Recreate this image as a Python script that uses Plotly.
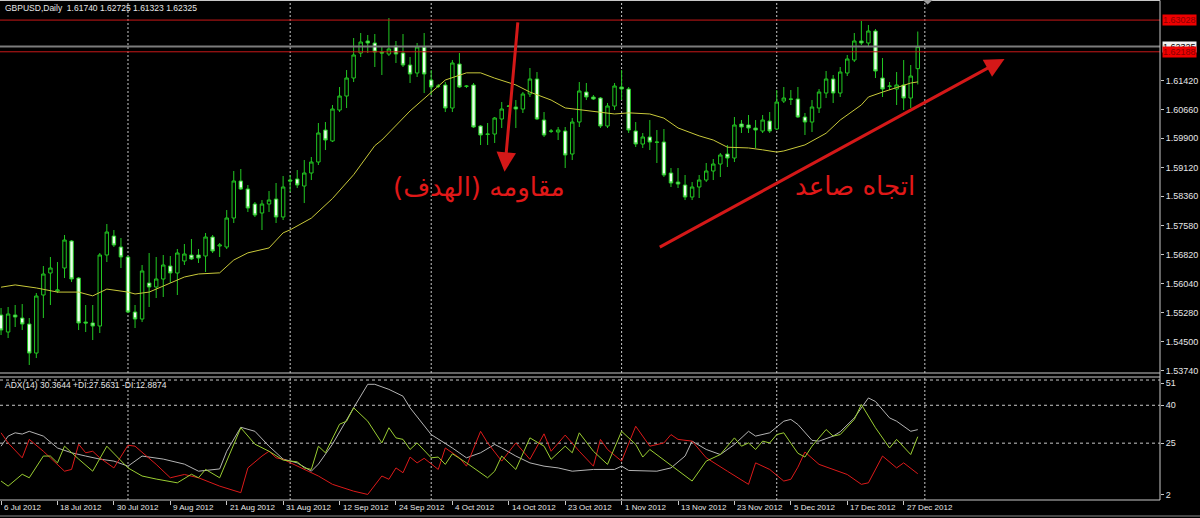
import plotly.graph_objects as go

# ---------------- DATA ----------------
bars = list(range(131))  # daily bars, 6 Jul 2012 (bar 0) .. 31 Dec 2012 (bar 130)

open_ = [1.55213,1.54762,1.55213,1.55133,1.54974,1.54205,1.55743,1.56326,1.55849,1.56458,
         1.57174,1.56193,1.55027,1.55001,1.54921,1.56803,1.57306,1.57015,1.56750,1.55292,
         1.55107,1.56061,1.55955,1.56167,1.56511,1.56326,1.56644,1.56803,1.56803,1.56776,
         1.57280,1.57041,1.57015,1.57783,1.58764,1.58552,1.58154,1.57916,1.58154,1.58286,
         1.57810,1.58790,1.58817,1.58631,1.58976,1.59267,1.60115,1.59825,1.60645,1.61016,
         1.61493,1.62156,1.62474,1.62421,1.62182,1.62129,1.62341,1.62156,1.61838,1.61626,
         1.62315,1.61440,1.61281,1.61308,1.60698,1.61864,1.61281,1.61308,1.60221,1.60009,
         1.60009,1.60407,1.60751,1.60725,1.60672,1.61069,1.61467,1.60380,1.60089,1.60062,
         1.60089,1.59479,1.60327,1.61122,1.60990,1.60963,1.60221,1.60751,1.61255,1.61202,
         1.60089,1.59744,1.59930,1.59797,1.59797,1.58976,1.58737,1.58658,1.58339,1.58605,
         1.58790,1.59029,1.59214,1.59479,1.59373,1.60274,1.60248,1.60168,1.60089,1.60354,
         1.60142,1.60884,1.60937,1.60937,1.60460,1.60327,1.60698,1.61096,1.61467,1.61096,
         1.61626,1.61970,1.62474,1.62421,1.62739,1.61493,1.61281,1.61202,1.61308,1.60963,
         1.61740]
high = [1.55398,1.55425,1.55478,1.55504,1.55133,1.55796,1.56511,1.56750,1.56617,1.57333,
        1.57200,1.56220,1.55478,1.55478,1.56856,1.57624,1.57465,1.57253,1.56776,1.55478,
        1.56538,1.56856,1.56750,1.56803,1.56776,1.56962,1.57094,1.57227,1.56962,1.57386,
        1.57333,1.57121,1.57995,1.59029,1.59082,1.58658,1.58207,1.58260,1.58499,1.58711,
        1.58896,1.58923,1.59055,1.59320,1.59400,1.60301,1.60327,1.60778,1.61255,1.61705,
        1.62553,1.62686,1.62633,1.62659,1.62315,1.63083,1.62474,1.62659,1.62050,1.62421,
        1.62686,1.61705,1.61334,1.61387,1.61970,1.62156,1.61308,1.61361,1.60248,1.60301,
        1.60460,1.60857,1.60778,1.60910,1.61122,1.61758,1.61652,1.60592,1.60142,1.60195,
        1.60195,1.60433,1.61387,1.61361,1.61043,1.60990,1.60831,1.61361,1.61705,1.61255,
        1.60327,1.60036,1.60380,1.60115,1.60142,1.59108,1.59108,1.58923,1.58737,1.58923,
        1.59241,1.59347,1.59505,1.59718,1.60460,1.60380,1.60513,1.60380,1.60513,1.60592,
        1.61175,1.61255,1.61175,1.61255,1.60566,1.60910,1.61202,1.61679,1.61573,1.61785,
        1.62103,1.62686,1.63004,1.62898,1.62792,1.62023,1.61387,1.61652,1.61970,1.61838,
        1.62725]
low = [1.54683,1.54603,1.54895,1.54815,1.53888,1.54073,1.55133,1.55478,1.55796,1.56193,
       1.56087,1.54815,1.54762,1.54550,1.54736,1.56617,1.57015,1.56458,1.55265,1.54868,
       1.55027,1.55425,1.55663,1.55690,1.56061,1.55743,1.56538,1.56670,1.56591,1.56352,
       1.56856,1.56750,1.56962,1.57651,1.58525,1.57942,1.57810,1.57465,1.57942,1.57651,
       1.57730,1.58472,1.58578,1.58180,1.58790,1.59188,1.59585,1.59797,1.60592,1.60698,
       1.61387,1.62050,1.62156,1.61785,1.61573,1.62076,1.61891,1.61785,1.61361,1.61520,
       1.61096,1.61043,1.61228,1.60592,1.60592,1.61228,1.61228,1.60168,1.59718,1.59718,
       1.59771,1.60168,1.60725,1.60168,1.60566,1.60990,1.60380,1.59930,1.60036,1.59850,
       1.59108,1.59320,1.60195,1.60910,1.60910,1.60168,1.60168,1.60645,1.60910,1.60036,
       1.59665,1.59638,1.59585,1.59241,1.58870,1.58605,1.58578,1.58260,1.58260,1.58313,
       1.58737,1.58790,1.58870,1.59135,1.59267,1.60036,1.60036,1.59638,1.60036,1.60036,
       1.60115,1.60831,1.60778,1.60433,1.59983,1.60062,1.60566,1.60963,1.60831,1.60990,
       1.61546,1.61917,1.62368,1.62315,1.61493,1.60990,1.61175,1.60778,1.60645,1.60698,
       1.61323]
close = [1.54815,1.55239,1.55160,1.54974,1.54205,1.55716,1.56299,1.56458,1.55875,1.57200,
         1.56167,1.55001,1.55001,1.54921,1.56803,1.57412,1.57068,1.56750,1.55292,1.55107,
         1.56379,1.55955,1.56167,1.56538,1.56326,1.56856,1.56829,1.56697,1.56723,1.57280,
         1.56909,1.57068,1.57783,1.58764,1.58552,1.58048,1.57863,1.58154,1.58260,1.57810,
         1.58605,1.58764,1.58658,1.58976,1.59267,1.60036,1.59850,1.60672,1.61016,1.61493,
         1.62103,1.62447,1.62421,1.62182,1.62156,1.62262,1.62129,1.61838,1.61599,1.62315,
         1.61599,1.61255,1.61275,1.60698,1.61891,1.61255,1.61275,1.60195,1.59983,1.60003,
         1.60433,1.60672,1.60745,1.60672,1.61069,1.61467,1.60407,1.59983,1.60083,1.60115,
         1.59453,1.60327,1.61149,1.60990,1.60937,1.60221,1.60751,1.61281,1.61202,1.60115,
         1.59744,1.59930,1.59797,1.59791,1.58923,1.58711,1.58684,1.58339,1.58605,1.58790,
         1.59029,1.59214,1.59453,1.59373,1.60248,1.60195,1.60168,1.60115,1.60380,1.60089,
         1.60857,1.60963,1.60931,1.60460,1.60327,1.60725,1.61122,1.61467,1.61096,1.61652,
         1.61997,1.62474,1.62421,1.62739,1.61679,1.61202,1.61275,1.61308,1.60963,1.61546,
         1.62325]

# moving average (yellow)
ma_x = [0,2,5,8,11,13,15,18,19,21,24,26,28,31,33,35,38,40,41,44,47,50,53,54,58,61,63,66,68,70,
        73,75,78,80,82,85,87,89,92,94,96,99,101,103,106,108,110,111,113,114,117,119,122,123,125,
        127,129,130]
ma_v = [1.5595,1.5601,1.5593,1.5582,1.5582,1.5572,1.5590,1.5582,1.5577,1.5582,1.5606,1.5622,
        1.5630,1.5633,1.5667,1.5686,1.5699,1.5739,1.5747,1.5778,1.5830,1.5893,1.5970,1.5985,
        1.6062,1.6110,1.6144,1.6163,1.6163,1.6149,1.6131,1.6112,1.6091,1.6070,1.6065,1.6059,
        1.6054,1.6057,1.6054,1.6043,1.6017,1.5996,1.5985,1.5966,1.5964,1.5959,1.5953,1.5956,
        1.5966,1.5972,1.6003,1.6038,1.6078,1.6099,1.6112,1.6123,1.6136,1.6139]

# ADX(14)
adx_x = [0,1,2,3,4,6,8,10,12,14,16,18,20,23,26,28,31,32,34,36,38,40,42,44,45,47,50,52,53,55,
         57,58,61,64,66,68,70,71,73,75,77,79,81,84,87,88,89,93,95,97,98,100,102,104,106,107,109,
         111,112,113,115,116,118,119,121,123,124,126,127,129,130]
adx_v = [23.8,27.8,29.1,28.6,29.7,27.8,23.1,21.2,19.9,18.7,17.9,15.9,19.9,18.7,16.7,13.9,14.8,
         21.8,31.3,29.7,23.8,18.7,17.2,13.9,16.7,24.6,39.0,48.3,48.3,46.3,43.6,39.0,28.4,23.1,
         19.2,21.2,24.5,23.1,19.9,17.2,15.9,15.2,13.9,14.6,14.6,15.9,14.2,13.9,15.2,19.9,25.8,
         22.5,20.5,24.5,29.7,27.8,29.1,33.7,34.4,32.4,26.1,25.8,27.8,29.5,35.0,42.9,41.5,35.0,
         33.7,29.7,30.36]
pdi_x = [0,1,3,4,6,7,8,9,11,13,15,18,20,22,25,27,28,29,31,33,34,36,38,40,42,43,44,45,46,48,49,
         50,52,54,55,56,57,58,59,61,62,63,64,66,69,70,71,73,75,77,78,80,81,82,84,86,88,90,91,92,
         98,100,102,104,105,106,107,108,109,110,111,112,113,114,115,117,118,119,121,122,124,126,
         127,129,130]
pdi_v = [10.0,8.0,12.7,11.3,19.9,19.9,17.2,23.8,18.7,13.9,23.8,15.2,12.0,10.8,9.3,12.7,11.3,
         14.6,11.3,24.6,31.1,24.6,21.8,18.3,17.6,15.2,14.6,23.8,21.2,32.5,33.7,39.0,33.7,25.1,
         31.1,27.1,26.5,22.5,25.1,19.2,19.5,16.6,20.8,17.2,11.3,13.9,19.9,14.6,27.1,23.8,18.6,
         23.8,21.2,29.1,21.8,16.6,29.7,24.5,19.5,22.5,10.0,17.9,20.5,27.1,23.8,25.1,22.5,25.8,
         25.1,28.4,29.1,25.0,21.0,19.5,23.8,30.4,27.8,28.4,34.4,40.3,31.1,23.1,26.5,20.5,27.56]
mdi_x = [0,1,3,4,6,9,10,11,12,13,14,16,18,19,22,24,26,28,31,34,35,37,38,39,40,43,45,47,50,52,
         54,55,56,57,58,59,60,62,63,65,66,68,69,71,73,75,77,78,80,82,84,85,86,88,90,92,94,95,96,
         98,100,103,106,107,109,111,112,113,114,116,118,120,122,123,125,127,128,130]
mdi_v = [29.1,25.1,19.2,26.5,21.8,13.9,14.6,24.6,21.2,21.8,19.2,15.2,24.2,23.8,16.6,11.3,12.6,
         11.3,8.0,5.4,15.2,19.9,21.8,19.2,18.6,14.6,12.0,8.7,6.0,4.7,12.0,10.7,15.2,13.3,19.5,
         17.2,19.0,14.6,23.1,19.2,15.9,29.7,25.1,17.9,25.1,18.6,28.7,21.8,28.2,21.8,15.9,26.5,
         22.5,17.9,31.7,23.8,25.1,28.4,26.5,25.8,19.2,13.9,8.7,17.2,14.6,10.0,10.7,15.5,21.5,
         16.6,14.6,12.6,8.7,9.3,19.9,15.2,17.2,12.89]

tick_labels = ["6 Jul 2012", "18 Jul 2012", "30 Jul 2012", "9 Aug 2012", "21 Aug 2012",
               "31 Aug 2012", "12 Sep 2012", "24 Sep 2012", "4 Oct 2012", "14 Oct 2012",
               "23 Oct 2012", "1 Nov 2012", "13 Nov 2012", "23 Nov 2012", "5 Dec 2012",
               "17 Dec 2012", "27 Dec 2012"]
tick_bars = [8 * i for i in range(len(tick_labels))]
month_sep_bars = [18, 41, 61, 88, 110, 131]
chart_shift_bar = 131.4

price_ticks = [1.53740, 1.54500, 1.55280, 1.56040, 1.56820, 1.57580, 1.58360,
               1.59120, 1.59900, 1.60660, 1.61420]
resistance_levels = [1.63028, 1.62188]
bid_level = 1.62325
adx_levels = [25, 40, 50]
adx_tick_vals = [4.7, 25, 40, 48.8]
adx_tick_text = ["2", "25", "40", "51"]

header_text = "GBPUSD,Daily  1.61740 1.62725 1.61323 1.62325"
adx_header = "ADX(14) 30.3644 +DI:27.5631 -DI:12.8874"
label_resist = "مقاومه (الهدف)"
label_trend = "اتجاه صاعد"
# annotation anchors (bar index, price)
resist_text_pos = (67.8, 1.5858)
trend_text_pos = (121.1, 1.5863)
arrow_down = ((73.3, 1.6301), (71.4, 1.5901))   # (tail, tip)
arrow_up = ((93.2, 1.5699), (142.3, 1.6200))

# ---------------- STYLE ----------------
GREEN = "#22c822"
TXT = "#e6e6e6"
FRAME = "#c8c8c8"
RED = "#e01818"
FONT = "Liberation Sans"

P_DOM = [0.254, 0.998]
A_DOM = [0.0, 0.244]

fig = go.Figure()
fig.add_trace(go.Candlestick(
    x=bars, open=open_, high=high, low=low, close=close,
    increasing=dict(line=dict(color=GREEN, width=1), fillcolor="#000000"),
    decreasing=dict(line=dict(color=GREEN, width=1), fillcolor="#eaffea"),
    whiskerwidth=0, hoverinfo="skip", xaxis="x", yaxis="y"))
fig.add_trace(go.Scatter(x=ma_x, y=ma_v, mode="lines", line=dict(color="#c9c93a", width=1),
                         xaxis="x", yaxis="y", hoverinfo="skip"))
fig.add_trace(go.Scatter(x=adx_x, y=adx_v, mode="lines", line=dict(color="#b4b4b4", width=1),
                         xaxis="x2", yaxis="y2", hoverinfo="skip"))
fig.add_trace(go.Scatter(x=mdi_x, y=mdi_v, mode="lines", line=dict(color="#dc1a1a", width=1),
                         xaxis="x2", yaxis="y2", hoverinfo="skip"))
fig.add_trace(go.Scatter(x=pdi_x, y=pdi_v, mode="lines", line=dict(color="#9acd32", width=1),
                         xaxis="x2", yaxis="y2", hoverinfo="skip"))

shapes = []
# month separators
for b in month_sep_bars:
    for dom in (P_DOM, A_DOM):
        shapes.append(dict(type="line", xref="x", yref="paper", x0=b, x1=b, y0=dom[0], y1=dom[1],
                           line=dict(color=FRAME, width=1, dash="2px,2px"), layer="below"))
# ADX levels
for lv in adx_levels:
    shapes.append(dict(type="line", xref="paper", yref="y2", x0=0, x1=1, y0=lv, y1=lv,
                       line=dict(color=FRAME, width=1, dash="3px,3px"), layer="below"))
# bid line and resistance lines
shapes.append(dict(type="line", xref="paper", yref="y", x0=0, x1=1, y0=bid_level, y1=bid_level,
                   line=dict(color="#7c7c7c", width=2)))
for lv in resistance_levels:
    shapes.append(dict(type="line", xref="paper", yref="y", x0=0, x1=1, y0=lv, y1=lv,
                       line=dict(color="#c81818", width=1)))
# frames
shapes += [
    dict(type="line", xref="paper", yref="paper", x0=0, x1=1, y0=0.999, y1=0.999, line=dict(color=FRAME, width=1)),
    dict(type="line", xref="paper", yref="paper", x0=0, x1=1, y0=P_DOM[0], y1=P_DOM[0], line=dict(color=FRAME, width=1)),
    dict(type="line", xref="paper", yref="paper", x0=0, x1=1, y0=0.246, y1=0.246, line=dict(color=FRAME, width=1)),
    dict(type="line", xref="paper", yref="paper", x0=0, x1=1, y0=0.0, y1=0.0, line=dict(color=FRAME, width=1)),
    dict(type="line", xref="paper", yref="paper", x0=1, x1=1, y0=0.0, y1=0.999, line=dict(color=FRAME, width=1)),
    dict(type="line", xref="paper", yref="paper", x0=0, x1=1.04, y0=-0.032, y1=-0.032, line=dict(color="#8c8c8c", width=1)),
    # chart-shift marker
    dict(type="path", xref="x", yref="paper",
         path=f"M {chart_shift_bar-0.7},1 L {chart_shift_bar+0.7},1 L {chart_shift_bar},0.991 Z",
         fillcolor="#9a9a9a", line=dict(width=0)),
]

ann = []
ann.append(dict(text=header_text, xref="paper", yref="paper", x=0, y=0.984, xanchor="left",
                yanchor="middle", xshift=3, showarrow=False, font=dict(family=FONT, size=8.5, color=TXT)))
ann.append(dict(text=adx_header, xref="paper", yref="paper", x=0, y=0.23, xanchor="left",
                yanchor="middle", xshift=3, showarrow=False, font=dict(family=FONT, size=8.5, color=TXT)))
for b, t in zip(tick_bars, tick_labels):
    ann.append(dict(text=t, xref="x", yref="paper", x=b, y=0, xanchor="left", yanchor="top",
                    xshift=1, yshift=-1, showarrow=False, font=dict(family=FONT, size=8, color=TXT)))
# price labels on right axis for lines
ann.append(dict(text=f"{bid_level:.5f}", xref="paper", yref="y", x=1, y=bid_level, xanchor="left",
                yanchor="middle", xshift=2, showarrow=False, bgcolor="#f0f0f0", borderpad=0,
                font=dict(family=FONT, size=9, color="#000000")))
for lv in resistance_levels:
    ann.append(dict(text=f"{lv:.5f}", xref="paper", yref="y", x=1, y=lv, xanchor="left",
                    yanchor="middle", xshift=2, showarrow=False, bgcolor="#ee0000", borderpad=0,
                    font=dict(family=FONT, size=9, color="#8a0000")))
# Arabic captions
ann.append(dict(text=label_resist, x=resist_text_pos[0], y=resist_text_pos[1], xref="x", yref="y",
                showarrow=False, font=dict(family="DejaVu Sans", size=26, color=RED)))
ann.append(dict(text=label_trend, x=trend_text_pos[0], y=trend_text_pos[1], xref="x", yref="y",
                showarrow=False, font=dict(family="DejaVu Sans", size=26, color=RED)))
# arrows
for (tail, tip) in (arrow_down, arrow_up):
    ann.append(dict(text="", x=tip[0], y=tip[1], ax=tail[0], ay=tail[1], xref="x", yref="y",
                    axref="x", ayref="y", showarrow=True, arrowhead=2, arrowsize=1.3,
                    arrowwidth=3, arrowcolor="#d41818"))

fig.update_layout(
    width=1200, height=518, paper_bgcolor="#000000", plot_bgcolor="#000000",
    margin=dict(l=0, r=40, t=0, b=18, autoexpand=False), showlegend=False,
    xaxis=dict(domain=[0, 1], range=[-0.15, 164.35], anchor="y", showgrid=False, zeroline=False,
               showticklabels=False, ticks="", rangeslider=dict(visible=False), fixedrange=True),
    yaxis=dict(domain=P_DOM, range=[1.53676, 1.63534], side="right", anchor="x",
               tickvals=price_ticks, ticktext=[f"{v:.5f}" for v in price_ticks],
               ticks="outside", ticklen=3, tickcolor=FRAME, showgrid=False, zeroline=False,
               tickfont=dict(family=FONT, size=9, color=TXT)),
    xaxis2=dict(domain=[0, 1], matches="x", anchor="y2", showgrid=False, zeroline=False,
                tickvals=tick_bars, ticks="outside", ticklen=4, tickcolor=FRAME,
                showticklabels=False),
    yaxis2=dict(domain=A_DOM, range=[2.5, 50.8], side="right", anchor="x2",
                tickvals=adx_tick_vals, ticktext=adx_tick_text, ticks="outside", ticklen=3,
                tickcolor=FRAME, showgrid=False, zeroline=False,
                tickfont=dict(family=FONT, size=9, color=TXT)),
    shapes=shapes, annotations=ann,
)

fig.write_html("out.html", config={"displayModeBar": False},
               post_script="document.body.style.margin='0px';document.body.style.background='#000';")
